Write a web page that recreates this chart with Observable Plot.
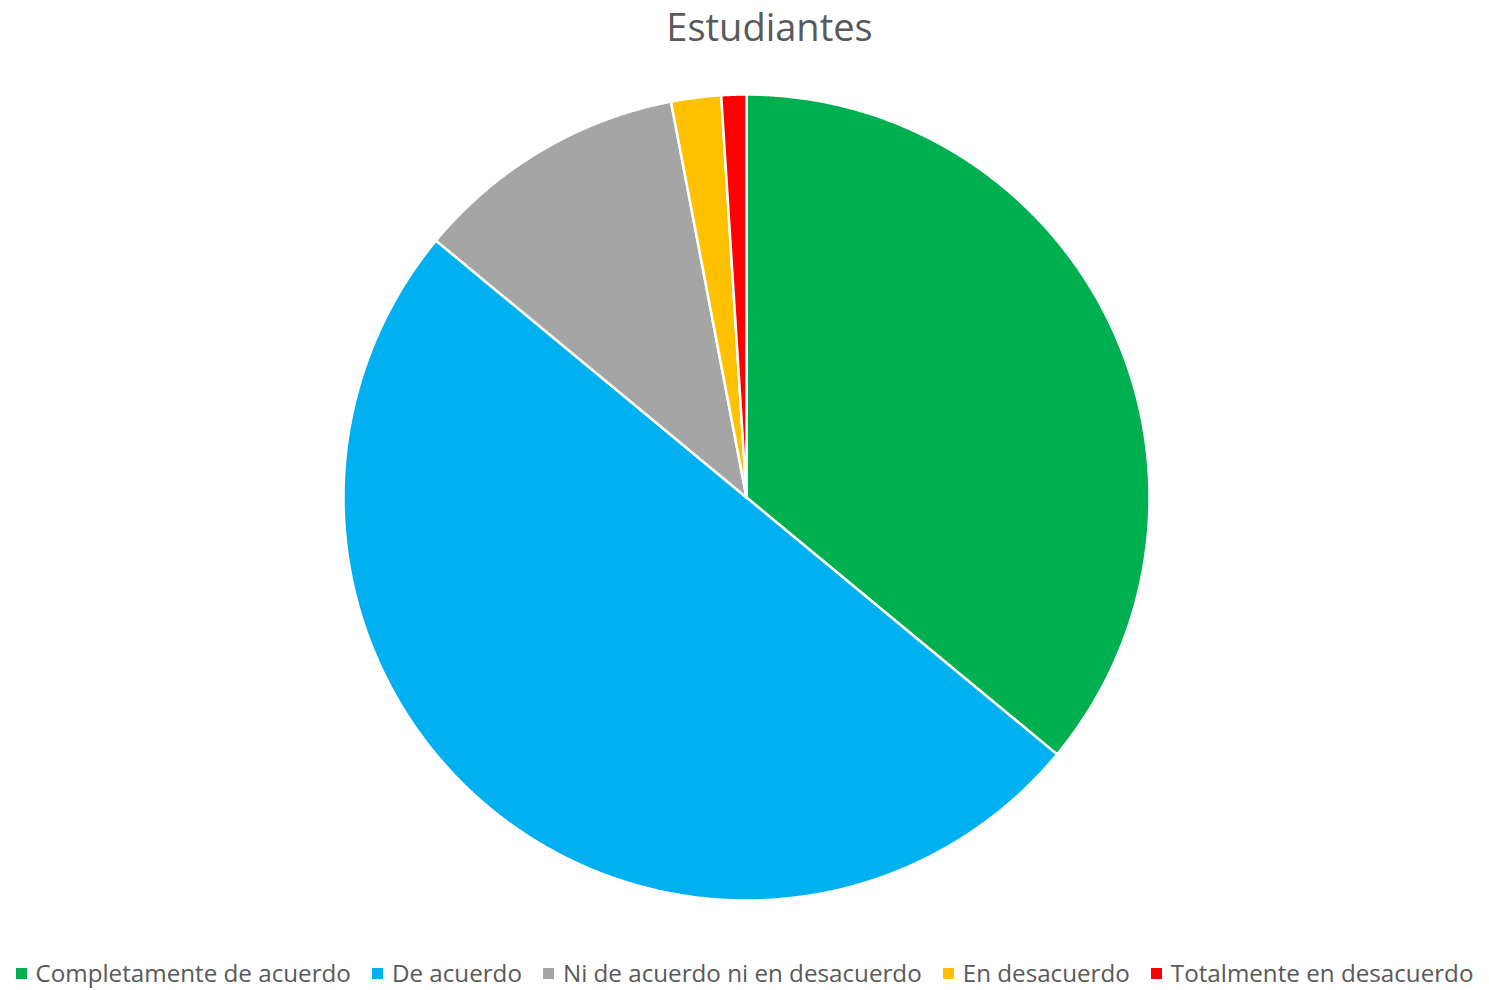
<!DOCTYPE html>
<html>
<head>
<meta charset="utf-8">
<script src="https://cdn.jsdelivr.net/npm/d3@7"></script>
<script src="https://cdn.jsdelivr.net/npm/@observablehq/plot@0.6"></script>
<style>
  html, body { margin: 0; padding: 0; background: #fff; width: 1489px; height: 990px; overflow: hidden; font-family: "Open Sans", sans-serif; }
  #title { position: absolute; top: 0; left: 0; width: 1489px; text-align: center; padding-left: 50px; box-sizing: border-box; font-size: 38px; color: #595959; line-height: 52px; }
  #chart { position: absolute; top: 52px; left: 0; }
  #legend { position: absolute; top: 955px; left: 0; width: 1489px; display: flex; justify-content: center; gap: 21px; font-size: 24.2px; color: #595959; line-height: 36px; white-space: nowrap; }
  .item { display: flex; align-items: center; }
  .sw { width: 11px; height: 11px; margin-right: 9px; display: inline-block; }
</style>
</head>
<body>
<div id="title">Estudiantes</div>
<div id="chart"></div>
<div id="legend"></div>
<script>
const categories = ["Completamente de acuerdo", "De acuerdo", "Ni de acuerdo ni en desacuerdo", "En desacuerdo", "Totalmente en desacuerdo"];
const values = [36, 50, 11, 2, 1];
const colors = ["#00B050", "#00B0F0", "#A5A5A5", "#FFC000", "#FF0000"];

// Build slice outlines from the values (angles from d3.pie, clockwise from 12 o'clock)
const arcs = d3.pie().sort(null)(values);
const rows = [];
arcs.forEach((a, i) => {
  const cat = categories[i];
  rows.push({cat, x: 0, y: 0});
  const n = Math.max(4, Math.ceil((a.endAngle - a.startAngle) / 0.005));
  for (let k = 0; k <= n; k++) {
    const t = a.startAngle + (a.endAngle - a.startAngle) * k / n;
    rows.push({cat, x: Math.sin(t), y: Math.cos(t)});
  }
  rows.push({cat, x: 0, y: 0});
});

const W = 1489, H = 880;
const plot = Plot.plot({
  width: W,
  height: H,
  marginLeft: 343,
  marginRight: 340,
  marginTop: 42,
  marginBottom: 32,
  x: {domain: [-1, 1], axis: null},
  y: {domain: [-1, 1], axis: null},
  color: {domain: categories, range: colors},
  marks: [
    Plot.line(rows, {x: "x", y: "y", z: "cat", fill: "cat", stroke: "white", strokeWidth: 2.5, strokeLinejoin: "round", curve: "linear"})
  ]
});
document.getElementById("chart").appendChild(plot);

const legend = document.getElementById("legend");
categories.forEach((c, i) => {
  const it = document.createElement("div");
  it.className = "item";
  const sw = document.createElement("span");
  sw.className = "sw";
  sw.style.background = colors[i];
  const tx = document.createElement("span");
  tx.textContent = c;
  it.appendChild(sw);
  it.appendChild(tx);
  legend.appendChild(it);
});
</script>
</body>
</html>
